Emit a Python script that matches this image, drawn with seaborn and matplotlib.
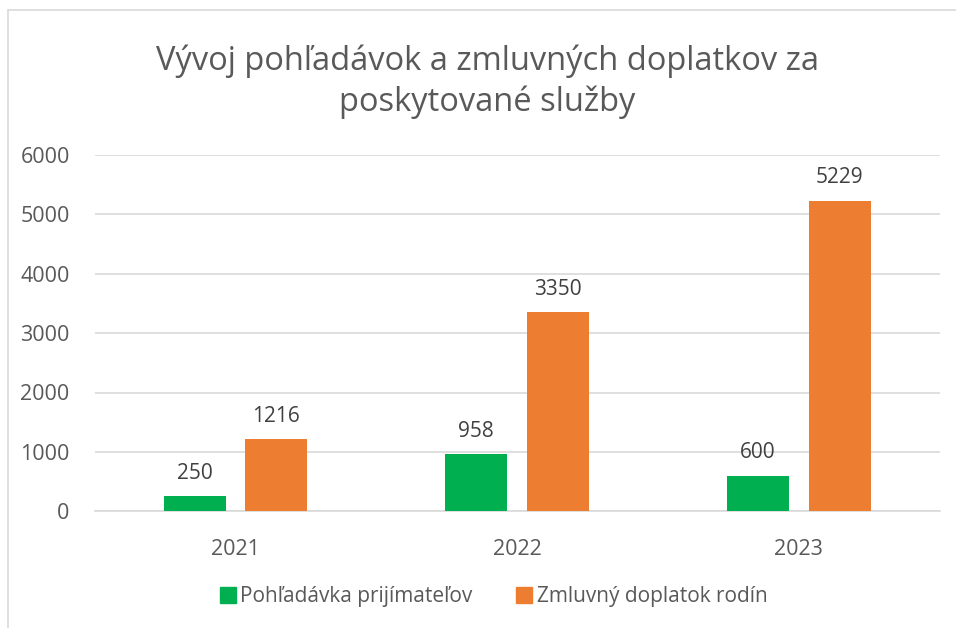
import pandas as pd
import matplotlib.pyplot as plt
import seaborn as sns
from matplotlib.lines import Line2D

sns.set_style('white')
plt.rcParams['font.family'] = ['Open Sans', 'DejaVu Sans']

years = ['2021', '2022', '2023']
pohladavka = [250, 958, 600]
doplatok = [1216, 3350, 5229]
series = ['Pohľadávka prijímateľov', 'Zmluvný doplatok rodín']
colors = ['#00B050', '#ED7D31']

df = pd.DataFrame({
    'rok': years * 2,
    'hodnota': pohladavka + doplatok,
    'typ': [series[0]] * 3 + [series[1]] * 3,
})

fig = plt.figure(figsize=(9.56, 6.28), dpi=100)
ax = fig.add_axes([0.099, 0.186, 0.884, 0.567])

sns.barplot(data=df, x='rok', y='hodnota', hue='typ', palette=colors,
            width=0.58, gap=0.24, saturation=1, linewidth=0, ax=ax, zorder=3)

txt = '#595959'
for cont in ax.containers:
    ax.bar_label(cont, fmt='%d', padding=9, fontsize=15, color='#404040')

ax.set_ylim(0, 6000)
ax.set_xlim(-0.5, 2.5)
ax.set_yticks(range(0, 6001, 1000))
ax.yaxis.grid(True, color='#D9D9D9', linewidth=1.2, zorder=0)
ax.set_xlabel('')
ax.set_ylabel('')
for s in ['top', 'right', 'left']:
    ax.spines[s].set_visible(False)
ax.spines['bottom'].set_color('#D9D9D9')
ax.spines['bottom'].set_linewidth(1.2)
ax.tick_params(axis='y', labelsize=15.5, labelcolor=txt, length=0, pad=18)
ax.tick_params(axis='x', labelsize=15.5, labelcolor=txt, length=0, pad=20)

ax.legend_.remove()
handles = [Line2D([], [], marker='s', linestyle='', markersize=11,
                  color=c) for c in colors]
fig.legend(handles, series, loc='center', bbox_to_anchor=(0.515, 0.05),
           ncol=2, frameon=False, fontsize=15, labelcolor=txt,
           handletextpad=0.1, columnspacing=2.0, handlelength=1.0)

fig.text(0.51, 0.87, 'Vývoj pohľadávok a zmluvných doplatkov za\nposkytované služby',
         ha='center', va='center', fontsize=23.5, color=txt, linespacing=1.3)

# okraj grafu
fig.add_artist(Line2D([8 / 956, 8 / 956], [0, 1 - 10 / 628],
                      transform=fig.transFigure, color='#D9D9D9', lw=1.2))
fig.add_artist(Line2D([8 / 956, 1], [1 - 10 / 628, 1 - 10 / 628],
                      transform=fig.transFigure, color='#D9D9D9', lw=1.2))

fig.savefig('out.png', dpi=100)
